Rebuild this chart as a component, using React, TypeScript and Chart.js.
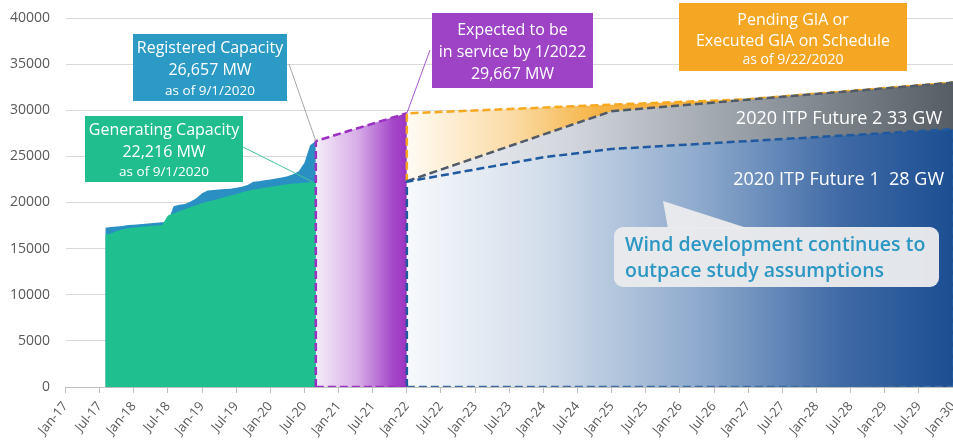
import React, { useEffect, useRef } from 'react';
import { Chart, registerables } from 'chart.js';

Chart.register(...registerables);

// x axis runs in months counted from Jan 2017; labels every six months
const tickLabels = [
  'Jan-17', 'Jul-17', 'Jan-18', 'Jul-18', 'Jan-19', 'Jul-19', 'Jan-20', 'Jul-20',
  'Jan-21', 'Jul-21', 'Jan-22', 'Jul-22', 'Jan-23', 'Jul-23', 'Jan-24', 'Jul-24',
  'Jan-25', 'Jul-25', 'Jan-26', 'Jul-26', 'Jan-27', 'Jul-27', 'Jan-28', 'Jul-28',
  'Jan-29', 'Jul-29', 'Jan-30',
];
const yTickValues = [0, 5000, 10000, 15000, 20000, 25000, 30000, 35000, 40000];

// monthly history, Aug-17 .. Sep-20
const historyStartMonth = 7;
const generatingMW = [
  16550, 16650, 16900, 17100, 17200, 17300, 17350, 17400, 17450, 17500, 17550,
  18600, 18800, 19050, 19300, 19500, 19700, 19950, 20100, 20250, 20400, 20600,
  20750, 20900, 21100, 21250, 21400, 21500, 21600, 21700, 21800, 21900, 21980,
  22050, 22100, 22150, 22190, 22216,
];
const registeredMW = [
  17250, 17350, 17400, 17450, 17550, 17600, 17650, 17700, 17750, 17800, 17850,
  17900, 19600, 19750, 19850, 20100, 20450, 21000, 21300, 21350, 21400, 21450,
  21500, 21600, 21700, 21900, 22250, 22300, 22400, 22500, 22600, 22700, 22850,
  23050, 23400, 24300, 26200, 26657,
];

// expected in service by 1/2022
const expectedMonths = [44, 50, 56, 60];
const expectedMW = [26657, 27800, 28930, 29667];

// pending / executed GIA
const giaMonths = [60, 96, 120, 156];
const giaMW = [29667, 30600, 31200, 33000];

// 2020 ITP futures
const future2Months = [60, 96, 120, 156];
const future2MW = [22300, 29900, 31150, 33000];
const future1Months = [60, 84, 96, 156];
const future1MW = [22260, 24900, 25800, 27950];

const FONT = "'Open Sans', 'Noto Sans', sans-serif";

const pts = (xs: number[], ys: number[]) => xs.map((x, i) => ({ x, y: ys[i] }));

const hGradient = (m0: number, m1: number, stops: [number, string][], fallback: string) =>
  (c: any) => {
    const chart = c.chart;
    const xs = chart.scales?.x;
    if (!chart.chartArea || !xs) return fallback;
    const g = chart.ctx.createLinearGradient(xs.getPixelForValue(m0), 0, xs.getPixelForValue(m1), 0);
    stops.forEach(([o, col]) => g.addColorStop(o, col));
    return g;
  };

type Line = [string, number, string?];

function drawBox(ctx: CanvasRenderingContext2D, x: number, y: number, w: number, h: number, fill: string, lines: Line[], ys: number[]) {
  ctx.fillStyle = fill;
  ctx.fillRect(x, y, w, h);
  ctx.fillStyle = '#ffffff';
  ctx.textAlign = 'center';
  ctx.textBaseline = 'middle';
  lines.forEach(([t, size, weight], i) => {
    ctx.font = `${weight || '400'} ${size}px ${FONT}`;
    ctx.fillText(t, x + w / 2, ys[i]);
  });
}

const annotations = {
  id: 'annotations',
  afterDatasetsDraw(chart: any) {
    const { ctx } = chart;
    const xs = chart.scales.x;
    const ys = chart.scales.y;
    const px = (m: number) => xs.getPixelForValue(m);
    const py = (v: number) => ys.getPixelForValue(v);
    const last = registeredMW.length - 1;
    const endMonth = historyStartMonth + last;

    ctx.save();
    // leader lines
    const leader = (x0: number, y0: number, x1: number, y1: number, col: string) => {
      ctx.strokeStyle = col;
      ctx.lineWidth = 1;
      ctx.setLineDash([]);
      ctx.beginPath();
      ctx.moveTo(x0, y0);
      ctx.lineTo(x1, y1);
      ctx.stroke();
    };
    leader(289, 64, px(endMonth), py(registeredMW[last]), '#a6a6a6');
    leader(243, 147, px(endMonth) - 3, py(generatingMW[last]), '#45c29f');
    leader(430, 50, px(expectedMonths[3]), py(expectedMW[3]), '#a855cc');

    drawBox(ctx, 133, 34, 154, 67, '#2b9bc6', [
      ['Registered Capacity', 16], ['26,657 MW', 16], ['as of 9/1/2020', 13.5],
    ], [48, 70, 91]);
    drawBox(ctx, 85, 116, 158, 66, '#20be8e', [
      ['Generating Capacity', 16], ['22,216 MW', 16], ['as of 9/1/2020', 13.5],
    ], [130, 152.5, 172]);
    drawBox(ctx, 432, 13, 161, 75, '#9e42c6', [
      ['Expected to be', 16], ['in service by 1/2022', 16], ['29,667 MW', 16],
    ], [30, 52, 74]);
    drawBox(ctx, 679, 3, 228, 68, '#f5a623', [
      ['Pending GIA or', 16], ['Executed GIA on Schedule', 16], ['as of 9/22/2020', 14],
    ], [20, 41, 60]);

    // future labels
    ctx.fillStyle = '#ffffff';
    ctx.textAlign = 'right';
    ctx.textBaseline = 'middle';
    ctx.font = `400 18px ${FONT}`;
    ctx.fillText('2020 ITP Future 2 33 GW', 942, 119);
    ctx.fillText('2020 ITP Future 1  28 GW', 944, 180);

    // speech bubble
    ctx.fillStyle = 'rgba(233,234,236,0.97)';
    ctx.beginPath();
    ctx.moveTo(663, 201);
    ctx.lineTo(750, 229);
    ctx.lineTo(668, 229);
    ctx.closePath();
    ctx.fill();
    ctx.beginPath();
    (ctx as any).roundRect(614, 227, 325, 60, 9);
    ctx.fill();
    ctx.fillStyle = '#2c97c3';
    ctx.textAlign = 'left';
    ctx.font = `600 19.5px ${FONT}`;
    ctx.fillText('Wind development continues to', 625, 245);
    ctx.fillText('outpace study assumptions', 625, 271);
    ctx.restore();
  },
};

export default function App() {
  const ref = useRef<HTMLCanvasElement | null>(null);

  useEffect(() => {
    if (!ref.current) return;
    const history = (vals: number[]) => vals.map((y, i) => ({ x: historyStartMonth + i, y }));
    const last = registeredMW.length - 1;
    const endMonth = historyStartMonth + last;
    const dash = [8, 4];
    const common = { pointRadius: 0, tension: 0, fill: 'origin' as const };

    const chart = new Chart(ref.current, {
      type: 'line',
      data: {
        datasets: [
          {
            ...common, fill: false, order: 1, borderColor: '#9b30c2', borderWidth: 2.5, borderDash: dash,
            data: [{ x: endMonth, y: 0 }, { x: expectedMonths[3], y: 0 }],
          },
          {
            ...common, fill: false, order: 2, borderColor: '#3d6aa0', borderWidth: 2.5, borderDash: dash,
            data: [{ x: future1Months[0], y: 0 }, { x: 156, y: 0 }],
          },
          {
            ...common, order: 5, borderColor: '#1f5aa0', borderWidth: 2.5, borderDash: dash,
            backgroundColor: hGradient(60, 156, [
              [0, '#f7f9fc'], [0.25, '#d3deeb'], [0.55, '#8aa7cb'], [0.8, '#3e69a5'], [1, '#1c4e92'],
            ], '#6f92c0'),
            data: [{ x: future1Months[0], y: 0 }, ...pts(future1Months, future1MW), { x: 156, y: 0 }],
          },
          {
            ...common, order: 6, borderColor: '#505b67', borderWidth: 2.5, borderDash: dash,
            backgroundColor: hGradient(60, 156, [
              [0, '#f3f4f7'], [0.3, '#d2d6dc'], [0.6, '#9ca2aa'], [1, '#575d65'],
            ], '#9ca2aa'),
            data: pts(future2Months, future2MW),
          },
          {
            ...common, order: 7, borderColor: '#f6a81f', borderWidth: 2.5, borderDash: dash,
            backgroundColor: hGradient(60, 94, [
              [0, '#fffbf4'], [0.55, '#fbdba4'], [1, '#f5b243'],
            ], '#f7c36a'),
            data: [{ x: giaMonths[0], y: future1MW[0] }, ...pts(giaMonths, giaMW)],
          },
          {
            ...common, order: 8, borderColor: '#9b30c2', borderWidth: 2.5, borderDash: dash,
            backgroundColor: hGradient(44, 60, [
              [0, '#f4ecf8'], [0.45, '#d8afe8'], [0.85, '#a547c9'], [1, '#9b33c1'],
            ], '#c27fdc'),
            data: [{ x: expectedMonths[0], y: 0 }, ...pts(expectedMonths, expectedMW)],
          },
          {
            ...common, order: 9, borderWidth: 0, backgroundColor: '#1fbf8f',
            data: history(generatingMW),
          },
          {
            ...common, order: 10, borderWidth: 0, backgroundColor: '#2a8fc3',
            data: history(registeredMW),
          },
        ],
      },
      options: {
        responsive: false,
        animation: false,
        devicePixelRatio: 1,
        layout: { padding: 0 },
        plugins: { legend: { display: false }, tooltip: { enabled: false } },
        scales: {
          x: {
            type: 'linear',
            min: 0,
            max: 156,
            ticks: {
              stepSize: 6,
              autoSkip: false,
              minRotation: 50,
              maxRotation: 50,
              padding: 6,
              color: '#595959',
              font: { family: FONT, size: 13 },
              callback: (v: any) => tickLabels[Math.round(Number(v) / 6)] ?? '',
            },
            grid: { drawOnChartArea: false, drawTicks: true, tickLength: 6, color: '#bfbfbf' },
            border: { display: true, color: '#bfbfbf', width: 1 },
            afterFit: (s: any) => { s.height = 55; s.paddingLeft = 0; s.paddingRight = 0; },
          },
          y: {
            min: yTickValues[0],
            max: yTickValues[yTickValues.length - 1],
            ticks: {
              stepSize: yTickValues[1] - yTickValues[0],
              padding: 15.5,
              color: '#595959',
              font: { family: FONT, size: 14 },
              callback: (v: any) => String(v),
            },
            grid: { drawTicks: false, color: '#d9d9d9' },
            border: { display: false },
            afterFit: (s: any) => { s.width = 65.5; s.paddingTop = 18; s.paddingBottom = 0; },
          },
        },
      },
      plugins: [annotations],
    } as any);
    return () => chart.destroy();
  }, []);

  return (
    <div style={{ position: 'fixed', left: 0, top: 0, width: 953, height: 442, background: '#ffffff', overflow: 'hidden' }}>
      <canvas ref={ref} width={953} height={442} style={{ display: 'block' }} />
    </div>
  );
}
